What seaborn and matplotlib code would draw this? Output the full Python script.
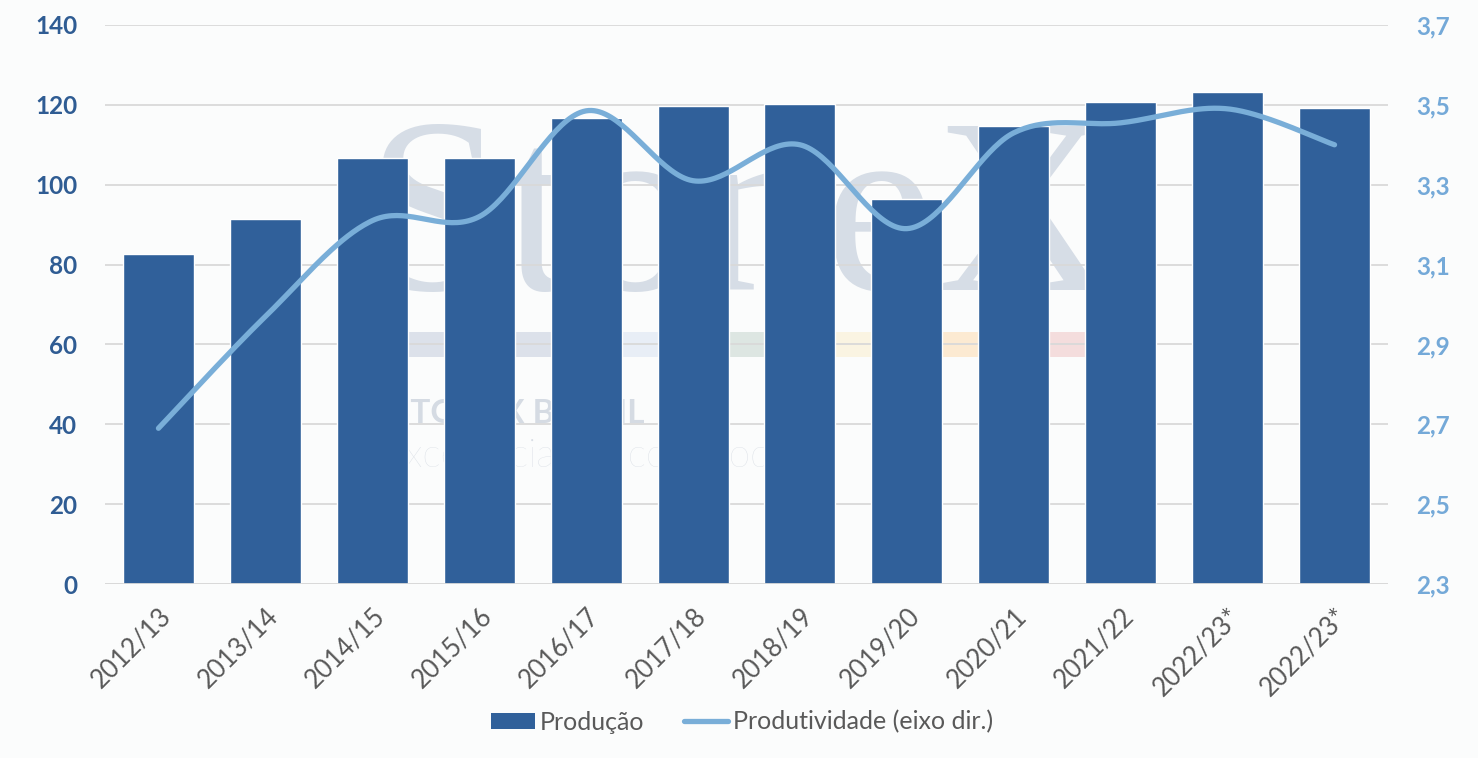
import numpy as np
import pandas as pd
import matplotlib
matplotlib.use("Agg")
import matplotlib.pyplot as plt
from matplotlib.patches import Patch, Rectangle
from matplotlib.lines import Line2D
import seaborn as sns

# ---- data ----
safras = ["2012/13", "2013/14", "2014/15", "2015/16", "2016/17", "2017/18",
          "2018/19", "2019/20", "2020/21", "2021/22", "2022/23*", "2022/23*"]
producao = [82.7, 91.3, 106.8, 106.8, 116.8, 119.8, 120.3, 96.5, 114.6, 120.6, 123.1, 119.1]
produtividade = [2.69, 2.97, 3.21, 3.22, 3.485, 3.31, 3.40, 3.19, 3.43, 3.455, 3.49, 3.40]
left_ticks = [0, 20, 40, 60, 80, 100, 120, 140]
right_ticks = [2.3, 2.5, 2.7, 2.9, 3.1, 3.3, 3.5, 3.7]
right_labels = ["2,3", "2,5", "2,7", "2,9", "3,1", "3,3", "3,5", "3,7"]
legend_labels = ["Produção", "Produtividade (eixo dir.)"]

BAR = "#30609A"
LINE = "#79AED8"
LEFTC = "#2F5C93"
RIGHTC = "#74A9D8"
GRAY = "#595959"
BG = "#FBFCFC"

sns.set_theme(style="white")
plt.rcParams["font.family"] = ["Lato", "DejaVu Sans"]

fig = plt.figure(figsize=(14.78, 7.58), dpi=100, facecolor=BG)
ax = fig.add_axes([105/1478, 1-584/758, (1388-105)/1478, (584-25)/758])

# watermark (in figure coords, behind everything)
wm = fig.add_axes([0, 0, 1, 1], zorder=-1)
wm.set_xlim(0, 1478); wm.set_ylim(758, 0); wm.axis("off")
wm.patch.set_alpha(0)
wm.text(365, 290, "StoneX", family="Liberation Serif", fontsize=180,
        color="#D6DDE6", ha="left", va="baseline")
segs = [(405, 560, "#DCE1EA"), (560, 700, "#E8EEF6"), (700, 790, "#DDE6E2"),
        (790, 900, "#FAF4E2"), (900, 1010, "#FCEAD2"), (1010, 1085, "#F4DDDD")]
for a, b, c in segs:
    wm.add_patch(Rectangle((a, 332), b - a, 25, color=c, lw=0))
wm.text(392, 423, "STONEX BRASIL", fontsize=24, fontweight="bold",
        color="#D5DBE3", ha="left", va="baseline")
wm.text(385, 467, "excelência em commodities", fontsize=28, fontweight="light",
        color="#D9DEE5", ha="left", va="baseline")
ax.patch.set_alpha(0)
fig.patch.set_facecolor(BG)

df = pd.DataFrame({"key": [str(i) for i in range(len(safras))], "prod": producao})
sns.barplot(data=df, x="key", y="prod", color=BAR, width=0.664, ax=ax,
            saturation=1, zorder=3)
ax.set_xlim(-0.5, len(safras) - 0.5)
ax.set_ylim(0, 140)
ax.set_yticks(left_ticks)
ax.set_yticklabels([str(t) for t in left_ticks], color=LEFTC, fontsize=17.5,
                   fontweight="bold")
ax.set_xticks(range(len(safras)))
ax.set_xticklabels(safras, rotation=45, ha="right", rotation_mode="anchor",
                   color=GRAY, fontsize=18.5)
ax.tick_params(axis="x", length=0, pad=14)
ax.tick_params(axis="y", length=0, pad=20)
ax.set_xlabel(""); ax.set_ylabel("")
ax.grid(axis="y", color="#D9D9D9", lw=1.3, zorder=0)
ax.set_axisbelow(True)
for s in ax.spines.values():
    s.set_visible(False)
ax.axhline(0, color="#D9D9D9", lw=2, zorder=4)

# smoothed line (Catmull-Rom like Excel's smoothing)
y = np.array(produtividade)
x = np.arange(len(y), dtype=float)
P = np.column_stack([x, y])
Pe = np.vstack([P[0], P, P[-1]])
xs, ys = [], []
t = np.linspace(0, 1, 40)
for i in range(len(P) - 1):
    p0, p3 = Pe[i + 1], Pe[i + 2]
    c1 = p0 + (Pe[i + 2] - Pe[i]) / 6
    c2 = p3 - (Pe[i + 3] - Pe[i + 1]) / 6
    B = ((1 - t) ** 3)[:, None] * p0 + (3 * (1 - t) ** 2 * t)[:, None] * c1 \
        + (3 * (1 - t) * t ** 2)[:, None] * c2 + (t ** 3)[:, None] * p3
    xs.extend(B[:, 0]); ys.extend(B[:, 1])

ax2 = ax.twinx()
sns.lineplot(x=xs, y=ys, ax=ax2, color=LINE, lw=3.8, sort=False,
             solid_capstyle="round", zorder=5)
ax2.set_ylim(2.3, 3.7)
ax2.set_yticks(right_ticks)
ax2.set_yticklabels(right_labels, color=RIGHTC, fontsize=17.5, fontweight="bold")
ax2.tick_params(axis="y", length=0, pad=20)
ax2.grid(False)
for s in ax2.spines.values():
    s.set_visible(False)

handles = [Patch(facecolor=BAR, edgecolor="none"),
           Line2D([0], [0], color=LINE, lw=3.8)]
fig.legend(handles, legend_labels, loc="center", bbox_to_anchor=(742/1478, 1-722/758),
           ncol=2, frameon=False, fontsize=18, labelcolor=GRAY,
           handlelength=1.75, handleheight=0.65, handletextpad=0.2, columnspacing=1.6)

fig.savefig("out.png", dpi=100, facecolor=BG)
